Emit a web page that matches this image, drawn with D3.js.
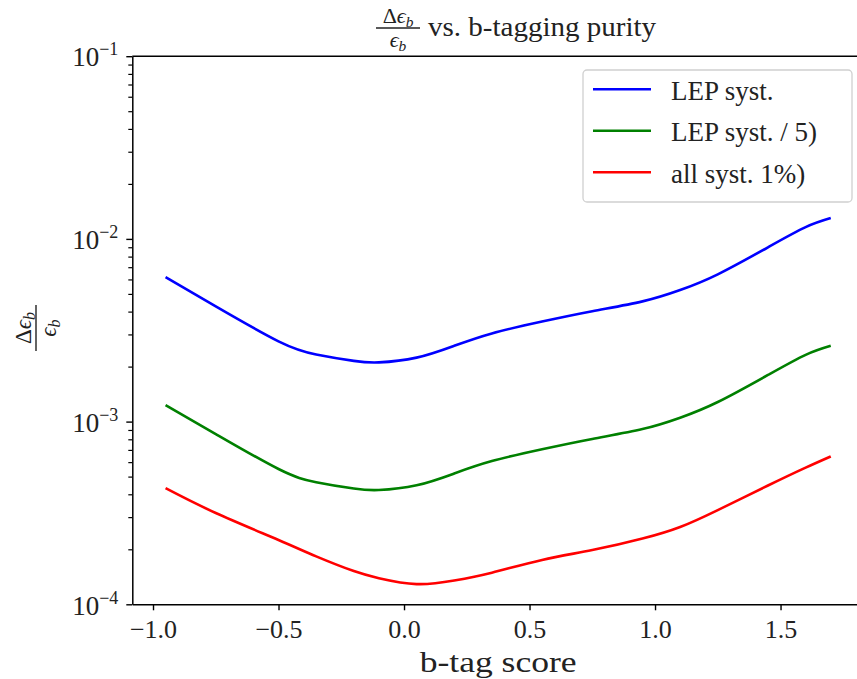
<!DOCTYPE html>
<html>
<head>
<meta charset="utf-8">
<script src="https://cdn.jsdelivr.net/npm/d3@7"></script>
<style>
	body { margin: 0; background: #fff; }
	svg { display: block; }
	svg text { font-family: "Liberation Serif", "DejaVu Serif", serif; }
</style>
</head>
<body>
<div id="chart"></div>
<script>
// b-tag score grid shared by all curves
const score = [-0.95, -0.75, -0.5, -0.35, -0.2, -0.1, 0.05, 0.2, 0.35, 0.55, 0.75, 0.95, 1.1, 1.25, 1.45, 1.6, 1.7];

// relative uncertainty on eps_b
const lepSyst = [6.17e-3, 4.27e-3, 2.75e-3, 2.33e-3, 2.15e-3, 2.11e-3, 2.24e-3, 2.60e-3, 3.04e-3, 3.53e-3, 4.02e-3, 4.55e-3, 5.25e-3, 6.40e-3, 9.0e-3, 1.16e-2, 1.30e-2];
const lepSyst5 = [1.23e-3, 8.55e-4, 5.5e-4, 4.66e-4, 4.30e-4, 4.22e-4, 4.48e-4, 5.20e-4, 6.08e-4, 7.06e-4, 8.04e-4, 9.1e-4, 1.05e-3, 1.28e-3, 1.8e-3, 2.32e-3, 2.6e-3];
const allSyst = [4.32e-4, 3.16e-4, 2.25e-4, 1.83e-4, 1.52e-4, 1.39e-4, 1.29e-4, 1.35e-4, 1.49e-4, 1.75e-4, 1.98e-4, 2.29e-4, 2.65e-4, 3.28e-4, 4.47e-4, 5.6e-4, 6.45e-4];

const seriesNames = ["LEP syst.", "LEP syst. / 5)", "all syst. 1%)"];
const seriesColors = ["#0000ff", "#008000", "#ff0000"];

const xTicks = [-1.0, -0.5, 0.0, 0.5, 1.0, 1.5];
const yTicks = [1e-4, 1e-3, 1e-2, 1e-1];

const width = 857, height = 679;
const margin = {top: 56.2, right: -7, bottom: 74.7, left: 132.3};
const w = width - margin.left - margin.right;
const h = height - margin.top - margin.bottom;

const x = d3.scaleLinear().domain([-1.0825, 1.8325]).range([0, w]);
const y = d3.scaleLog().domain([1e-4, 1e-1]).range([h, 0]);

const svg = d3.select("#chart").append("svg")
	.attr("width", width)
	.attr("height", height)
	.attr("viewBox", `0 0 ${width} ${height}`);

const g = svg.append("g").attr("transform", `translate(${margin.left},${margin.top})`);

// curves
const line = d3.line()
	.x(d => x(d[0]))
	.y(d => y(d[1]))
	.curve(d3.curveNatural);

[lepSyst, lepSyst5, allSyst].forEach((vals, i) => {
	g.append("path")
		.datum(score.map((s, j) => [s, vals[j]]))
		.attr("fill", "none")
		.attr("stroke", seriesColors[i])
		.attr("stroke-width", 2.6)
		.attr("d", line);
});

// minor log ticks
const minor = [];
for (let e = -4; e < -1; e++) for (let k = 2; k < 10; k++) minor.push(k * Math.pow(10, e));

g.append("g")
	.call(d3.axisLeft(y).tickValues(minor).tickSize(4).tickFormat(() => ""))
	.call(s => s.select(".domain").remove())
	.selectAll("line").attr("stroke-width", 1.2);

// y axis major
const yAxis = g.append("g")
	.call(d3.axisLeft(y).tickValues(yTicks).tickSize(6).tickSizeOuter(0).tickPadding(8).tickFormat(() => ""));
yAxis.select(".domain").attr("stroke-width", 1.5);
yAxis.selectAll(".tick line").attr("stroke-width", 1.4);
yAxis.selectAll(".tick text")
	.attr("font-size", 27)
	.attr("fill", "#222")
	.attr("dy", "0.36em")
	.each(function(d) {
		const t = d3.select(this);
		t.append("tspan").text("10");
		t.append("tspan").attr("dy", -11).attr("font-size", 18).text("\u2212" + Math.round(-Math.log10(d)));
	});

// x axis
const xAxis = g.append("g")
	.attr("transform", `translate(0,${h})`)
	.call(d3.axisBottom(x).tickValues(xTicks).tickSize(6).tickSizeOuter(0).tickPadding(7).tickFormat(d3.format(".1f")));
xAxis.select(".domain").attr("stroke-width", 1.5);
xAxis.selectAll(".tick line").attr("stroke-width", 1.4);
xAxis.selectAll(".tick text").attr("font-size", 26).attr("fill", "#222").attr("dy", "0.8em");

// top and right spines
g.append("line").attr("x1", 0).attr("x2", w).attr("y1", 0).attr("y2", 0).attr("stroke", "#000").attr("stroke-width", 1.5);
g.append("line").attr("x1", w).attr("x2", w).attr("y1", 0).attr("y2", h).attr("stroke", "#000").attr("stroke-width", 1.5);

// x label
svg.append("text")
	.attr("x", margin.left + w / 2)
	.attr("y", 672)
	.attr("text-anchor", "middle")
	.attr("font-size", 30)
	.attr("textLength", 157)
	.attr("lengthAdjust", "spacingAndGlyphs")
	.attr("fill", "#222")
	.text("b-tag score");

// fraction d eps_b / eps_b
function fraction(sel, size) {
	const num = sel.append("text").attr("text-anchor", "middle").attr("y", -5).attr("font-size", size).attr("fill", "#222");
	num.append("tspan").text("\u0394");
	num.append("tspan").attr("font-style", "italic").text("\u03f5");
	num.append("tspan").attr("font-style", "italic").attr("font-size", size * 0.7).attr("dy", 4).text("b");
	sel.append("line").attr("x1", -size).attr("x2", size).attr("stroke", "#222").attr("stroke-width", 1.4);
	const den = sel.append("text").attr("text-anchor", "middle").attr("y", size * 0.85).attr("font-size", size).attr("fill", "#222");
	den.append("tspan").attr("font-style", "italic").text("\u03f5");
	den.append("tspan").attr("font-style", "italic").attr("font-size", size * 0.7).attr("dy", 4).text("b");
}

// title
fraction(svg.append("g").attr("transform", "translate(398,28)"), 22);
svg.append("text")
	.attr("x", 428)
	.attr("y", 36)
	.attr("font-size", 28)
	.attr("textLength", 228)
	.attr("lengthAdjust", "spacingAndGlyphs")
	.attr("fill", "#222")
	.text("vs. b-tagging purity");

// y label
fraction(svg.append("g").attr("transform", "translate(36,328) rotate(-90)"), 23);

// legend
const legend = svg.append("g").attr("transform", "translate(583,70)");
legend.append("rect")
	.attr("width", 269).attr("height", 132).attr("rx", 4)
	.attr("fill", "#fff").attr("fill-opacity", 0.8)
	.attr("stroke", "#d0d0d0").attr("stroke-width", 1.3);

seriesNames.forEach((name, i) => {
	const ly = 19.3 + i * 41.5;
	legend.append("line")
		.attr("x1", 10).attr("x2", 68).attr("y1", ly).attr("y2", ly)
		.attr("stroke", seriesColors[i]).attr("stroke-width", 2.6);
	legend.append("text")
		.attr("x", 88).attr("y", ly + 10.5)
		.attr("font-size", 27)
		.attr("fill", "#222")
		.text(name);
});
</script>
</body>
</html>
